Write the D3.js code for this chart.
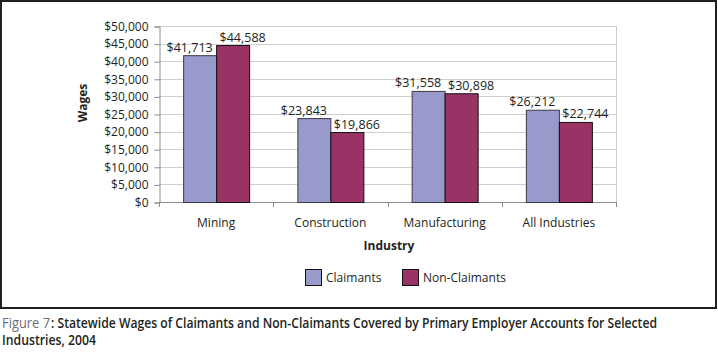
<!DOCTYPE html>
<html>
<head>
<meta charset="utf-8">
<script src="https://cdn.jsdelivr.net/npm/d3@7"></script>
<style>
  html, body { margin: 0; padding: 0; background: #fff; }
  svg { display: block; font-family: "Open Sans", "Noto Sans", sans-serif; }
</style>
</head>
<body>
<svg id="chart" width="718" height="353"></svg>
<script>
const categories = ["Mining", "Construction", "Manufacturing", "All Industries"];
const seriesNames = ["Claimants", "Non-Claimants"];
const claimants = [41713, 23843, 31558, 26212];
const nonClaimants = [44588, 19866, 30898, 22744];
const yTicks = [0, 5000, 10000, 15000, 20000, 25000, 30000, 35000, 40000, 45000, 50000];
const colors = ["#9999cc", "#993366"];
const yTitle = "Wages";
const xTitle = "Industry";
const captionLabel = "Figure 7";
const captionLine1 = ": Statewide Wages of Claimants and Non-Claimants Covered by Primary Employer Accounts for Selected";
const captionLine2 = "Industries, 2004";

(function () {
const svg = d3.select("#chart");
const ink = "#231f20";

// outer frame
svg.append("rect").attr("x", 1).attr("y", 1).attr("width", 715).attr("height", 307)
  .attr("fill", "none").attr("stroke", ink).attr("stroke-width", 2);

const pLeft = 159, pRight = 616, pTop = 26, pBottom = 202;
const x = d3.scaleBand().domain(categories).range([pLeft, pRight]).padding(0);
const y = d3.scaleLinear().domain([0, 50000]).range([pBottom, pTop]);
const inner = d3.scaleBand().domain(seriesNames).range([0, 66]);
const groupOffset = (x.bandwidth() - 66) / 2;

const fmt = v => "$" + d3.format(",")(v);

// gridlines
svg.append("g").selectAll("line").data(yTicks.filter(t => t > 0)).join("line")
  .attr("x1", pLeft).attr("x2", pRight)
  .attr("y1", d => Math.round(y(d)) + 0.5).attr("y2", d => Math.round(y(d)) + 0.5)
  .attr("stroke", "#cfcfcf").attr("stroke-width", 1);
// right plot border
svg.append("line").attr("x1", pRight + 0.5).attr("x2", pRight + 0.5)
  .attr("y1", pTop).attr("y2", pBottom).attr("stroke", "#cfcfcf");

// y axis
const yAxis = d3.axisLeft(y).tickValues(yTicks).tickFormat(fmt).tickSize(5).tickPadding(6);
const gy = svg.append("g").attr("transform", `translate(${pLeft + 0.5},0.5)`).call(yAxis);
gy.select(".domain").attr("stroke", "#8c8c8c");
gy.selectAll(".tick line").attr("stroke", "#8c8c8c");
gy.selectAll(".tick text").attr("font-size", 12).attr("fill", ink)
  .attr("font-family", "'Open Sans', sans-serif");

// x axis
const boundaries = d3.range(categories.length + 1).map(i => pLeft + i * x.bandwidth());
svg.append("line").attr("x1", pLeft).attr("x2", pRight)
  .attr("y1", pBottom + 0.5).attr("y2", pBottom + 0.5).attr("stroke", "#8c8c8c");
svg.append("g").selectAll("line").data(boundaries).join("line")
  .attr("x1", d => Math.round(d) + 0.5).attr("x2", d => Math.round(d) + 0.5)
  .attr("y1", pBottom).attr("y2", pBottom + 5).attr("stroke", "#8c8c8c");
svg.append("g").selectAll("text").data(categories).join("text")
  .attr("x", d => x(d) + x.bandwidth() / 2).attr("y", 227)
  .attr("text-anchor", "middle").attr("font-size", 12).attr("fill", ink)
  .text(d => d);

// bars
const data = categories.map((c, i) => [
  { cat: c, s: seriesNames[0], v: claimants[i] },
  { cat: c, s: seriesNames[1], v: nonClaimants[i] }
]).flat();

svg.append("g").selectAll("rect").data(data).join("rect")
  .attr("x", d => x(d.cat) + groupOffset + inner(d.s) + 0.5)
  .attr("y", d => y(d.v) + 0.5)
  .attr("width", inner.bandwidth())
  .attr("height", d => pBottom - y(d.v))
  .attr("fill", d => d.s === seriesNames[0] ? colors[0] : colors[1])
  .attr("stroke", d => d.s === seriesNames[0] ? "#3a3a4a" : "#111")
  .attr("stroke-width", 1);

// value labels
svg.append("g").selectAll("text").data(data).join("text")
  .attr("x", d => x(d.cat) + groupOffset + inner(d.s) + inner.bandwidth() / 2 + (d.s === seriesNames[0] ? -10 : 10))
  .attr("y", d => y(d.v) - 3.5)
  .attr("text-anchor", "middle").attr("font-size", 12.5).attr("fill", ink)
  .text(d => fmt(d.v));

// axis titles
svg.append("text").attr("transform", "translate(86.5,103) rotate(-90)")
  .attr("text-anchor", "middle").attr("font-size", 12).attr("font-weight", "bold")
  .attr("fill", ink).text(yTitle);
svg.append("text").attr("x", 389).attr("y", 250)
  .attr("text-anchor", "middle").attr("font-size", 12).attr("font-weight", "bold")
  .attr("fill", ink).text(xTitle);

// legend
const legendX = [305, 402];
const lg = svg.append("g").selectAll("g").data(seriesNames).join("g")
  .attr("transform", (d, i) => `translate(${legendX[i]},269)`);
lg.append("rect").attr("x", 0.5).attr("y", 0.5).attr("width", 16).attr("height", 16)
  .attr("fill", (d, i) => colors[i]).attr("stroke", "#111");
lg.append("text").attr("x", 21).attr("y", 12.7).attr("font-size", 12).attr("fill", ink)
  .text(d => d);

// caption
svg.append("text").attr("x", 2).attr("y", 327.5).attr("font-size", 14)
  .attr("fill", "#6d6e71").attr("textLength", 48).attr("lengthAdjust", "spacingAndGlyphs")
  .text(captionLabel);
svg.append("text").attr("x", 51).attr("y", 327.5).attr("font-size", 14).attr("font-weight", 600)
  .attr("fill", ink).attr("textLength", 606).attr("lengthAdjust", "spacingAndGlyphs")
  .text(captionLine1);
svg.append("text").attr("x", 2).attr("y", 344.5).attr("font-size", 14).attr("font-weight", 600)
  .attr("fill", ink).attr("textLength", 94).attr("lengthAdjust", "spacingAndGlyphs")
  .text(captionLine2);
})();
</script>
</body>
</html>
